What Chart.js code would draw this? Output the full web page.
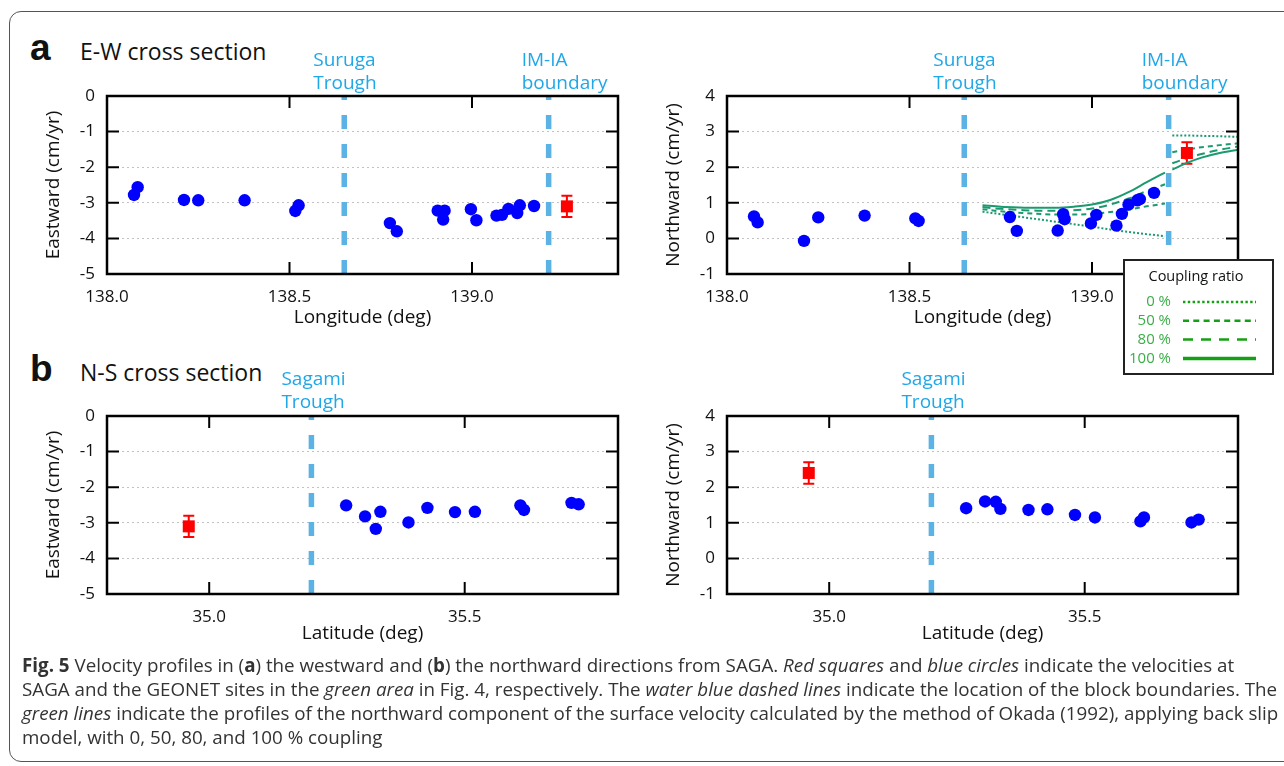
<!DOCTYPE html>
<html>
<head>
<meta charset="utf-8">
<title>Velocity profiles</title>
<script src="https://cdn.jsdelivr.net/npm/chart.js@4.4.1/dist/chart.umd.min.js"></script>
<style>
  body { margin: 0; width: 1284px; height: 766px; overflow: hidden; position: relative; background: #fff; font-family: 'Open Sans', sans-serif; }
  #frame { position: absolute; left: 9px; top: 11px; width: 1300px; height: 751px; border: 1.4px solid #555; border-radius: 12px; box-sizing: border-box; }
  .panel { position: absolute; }
  .tag { position: absolute; font: bold 37px 'Liberation Sans', Arial, sans-serif; line-height: 1; color: #111; }
  .head { position: absolute; font-size: 23px; line-height: 1; color: #111; white-space: nowrap; }
  #legend { position: absolute; left: 1123px; top: 259px; border: 2px solid #222; background: #fff; z-index: 5; }
  #legend canvas { display: block; }
  #caption { position: absolute; left: 22px; color: #333; line-height: 24.3px; white-space: nowrap; }
  #caption .ln { display: block; width: max-content; }
</style>
</head>
<body>
<div id="frame"></div>
<div class="tag" style="left:30px;top:29px">a</div>
<div class="head" style="left:80px;top:40px">E-W cross section</div>
<div class="tag" style="left:30px;top:350px">b</div>
<div class="head" style="left:80px;top:361px">N-S cross section</div>

<canvas id="ewEast" class="panel" width="640" height="320" style="left:0;top:30px"></canvas>
<canvas id="ewNorth" class="panel" width="640" height="320" style="left:640px;top:30px"></canvas>
<canvas id="nsEast" class="panel" width="640" height="320" style="left:0;top:350px"></canvas>
<canvas id="nsNorth" class="panel" width="640" height="320" style="left:640px;top:350px"></canvas>

<div id="legend"><canvas id="legendCanvas" width="147" height="112"></canvas></div>

<div id="caption">
  <span class="ln"><b>Fig. 5</b> Velocity profiles in (<b>a</b>) the westward and (<b>b</b>) the northward directions from SAGA. <i>Red squares</i> and <i>blue circles</i> indicate the velocities at</span>
  <span class="ln">SAGA and the GEONET sites in the <i>green area</i> in Fig. 4, respectively. The <i>water blue dashed lines</i> indicate the location of the block boundaries. The</span>
  <span class="ln"><i>green lines</i> indicate the profiles of the northward component of the surface velocity calculated by the method of Okada (1992), applying back slip</span>
  <span class="ln">model, with 0, 50, 80, and 100 % coupling</span>
</div>

<script>
// GEONET sites along the E-W section (longitude, cm/yr)
const ewLon   = [138.074, 138.084, 138.211, 138.250, 138.377, 138.516, 138.525, 138.775, 138.794, 138.906,
                 138.921, 138.925, 138.997, 139.012, 139.067, 139.082, 139.100, 139.124, 139.131, 139.170];
const ewEast  = [-2.78, -2.56, -2.92, -2.93, -2.93, -3.23, -3.07, -3.57, -3.80, -3.22,
                 -3.47, -3.22, -3.18, -3.49, -3.36, -3.34, -3.17, -3.29, -3.07, -3.09];
const ewNorth = [0.62, 0.45, -0.07, 0.59, 0.64, 0.56, 0.49, 0.60, 0.21, 0.22,
                 0.68, 0.54, 0.42, 0.66, 0.36, 0.69, 0.95, 1.07, 1.10, 1.28];

// GEONET sites along the N-S section (latitude, cm/yr)
const nsLat   = [35.268, 35.305, 35.326, 35.335, 35.390, 35.427, 35.481, 35.520, 35.609, 35.616, 35.709, 35.723];
const nsEast  = [-2.51, -2.82, -3.17, -2.69, -2.99, -2.58, -2.70, -2.69, -2.51, -2.64, -2.44, -2.48];
const nsNorth = [1.41, 1.60, 1.59, 1.39, 1.36, 1.38, 1.22, 1.15, 1.04, 1.15, 1.01, 1.09];

// SAGA (seafloor site)
const sagaLon = 139.26, sagaLat = 34.96;
const sagaEast = -3.10, sagaNorth = 2.40, sagaErr = 0.30;

// Okada model, northward component, west and east of the IM-IA boundary
const modelLonW    = [138.70, 138.75, 138.80, 138.85, 138.90, 138.95, 139.00, 139.05, 139.10, 139.15, 139.20];
const coupling0W   = [0.75, 0.68, 0.61, 0.54, 0.47, 0.40, 0.33, 0.25, 0.18, 0.12, 0.06];
const coupling50W  = [0.82, 0.76, 0.72, 0.69, 0.67, 0.67, 0.69, 0.74, 0.81, 0.90, 0.98];
const coupling80W  = [0.88, 0.83, 0.80, 0.78, 0.78, 0.79, 0.84, 0.95, 1.12, 1.33, 1.52];
const coupling100W = [0.93, 0.89, 0.87, 0.86, 0.86, 0.89, 0.95, 1.08, 1.30, 1.58, 1.85];
const modelLonE    = [139.22, 139.26, 139.30, 139.35, 139.40];
const coupling0E   = [2.89, 2.89, 2.88, 2.87, 2.85];
const coupling50E  = [2.42, 2.50, 2.56, 2.62, 2.67];
const coupling80E  = [2.11, 2.25, 2.37, 2.49, 2.58];
const coupling100E = [1.93, 2.12, 2.27, 2.40, 2.49];
const couplingLabels = ['0 %', '50 %', '80 %', '100 %'];

// block boundaries
const surugaLon = 138.65, imiaLon = 139.21, sagamiLat = 35.20;

// ticks
const lonTicks = [138.0, 138.5, 139.0];
const latTicks = [35.0, 35.5];
const eastTicks = [0, -1, -2, -3, -4, -5];
const northTicks = [4, 3, 2, 1, 0, -1];

const FONT = "'Open Sans', sans-serif";
const curveColor = '#1b9a6f';
const curveDash = [[2, 2], [5, 4], [8, 5], []];
const legendDash = [[2.4, 2.4], [6, 4.3], [10, 8], []];

Chart.defaults.font.family = FONT;
Chart.defaults.color = '#111';

const pts = (xs, ys) => xs.map((x, i) => ({x: x, y: ys[i]}));

// boundary lines, error bar, inward ticks, frame and boundary names
const decor = {
  id: 'panelDecor',
  beforeDatasetsDraw(chart, args, opts) {
    const {ctx, chartArea: a, scales: {x, y}} = chart;
    ctx.save();
    ctx.strokeStyle = '#5ab3e4';
    ctx.lineWidth = 5.5;
    ctx.setLineDash([14, 15]);
    opts.bounds.forEach(b => {
      const px = x.getPixelForValue(b.at);
      ctx.beginPath();
      ctx.moveTo(px, a.bottom);
      ctx.lineTo(px, a.top);
      ctx.stroke();
    });
    if (opts.err) {
      const px = x.getPixelForValue(opts.err.x);
      const hi = y.getPixelForValue(opts.err.y + opts.err.e);
      const lo = y.getPixelForValue(opts.err.y - opts.err.e);
      ctx.setLineDash([]);
      ctx.strokeStyle = '#ff0000';
      ctx.lineWidth = 2;
      ctx.beginPath();
      ctx.moveTo(px, hi); ctx.lineTo(px, lo);
      ctx.moveTo(px - 5.5, hi); ctx.lineTo(px + 5.5, hi);
      ctx.moveTo(px - 5.5, lo); ctx.lineTo(px + 5.5, lo);
      ctx.stroke();
    }
    ctx.restore();
  },
  afterDraw(chart, args, opts) {
    const {ctx, chartArea: a, scales: {x, y}} = chart;
    ctx.save();
    ctx.setLineDash([]);
    ctx.strokeStyle = '#000';
    ctx.lineWidth = 2;
    ctx.beginPath();
    y.ticks.forEach(t => {
      const py = y.getPixelForValue(t.value);
      ctx.moveTo(a.left, py); ctx.lineTo(a.left + 12, py);
      ctx.moveTo(a.right - 12, py); ctx.lineTo(a.right, py);
    });
    x.ticks.forEach(t => {
      const px = x.getPixelForValue(t.value);
      ctx.moveTo(px, a.top); ctx.lineTo(px, a.top + 12);
      ctx.moveTo(px, a.bottom - 12); ctx.lineTo(px, a.bottom);
    });
    ctx.stroke();
    ctx.lineWidth = 2.5;
    ctx.strokeRect(a.left, a.top, a.right - a.left, a.bottom - a.top);

    ctx.fillStyle = '#1fa7e7';
    ctx.font = '19px ' + FONT;
    ctx.textAlign = 'left';
    ctx.textBaseline = 'middle';
    opts.bounds.forEach(b => {
      const px = x.getPixelForValue(b.at);
      b.text.forEach((s, i) => ctx.fillText(s, px + b.dx, opts.labelY[i]));
    });
    ctx.restore();
  }
};

function panel(id, o) {
  return new Chart(document.getElementById(id), {
    type: 'scatter',
    data: {datasets: o.datasets},
    plugins: [decor],
    options: {
      responsive: false,
      animation: false,
      layout: {padding: {left: o.padLeft, right: o.padRight, top: 66, bottom: 16}},
      plugins: {
        legend: {display: false},
        tooltip: {enabled: false},
        panelDecor: o.decor
      },
      scales: {
        x: {
          type: 'linear', min: o.xMin, max: o.xMax,
          afterBuildTicks: s => { s.ticks = o.xTicks.map(v => ({value: v})); },
          afterFit: s => { s.height = 60; },
          grid: {display: false},
          border: {display: false},
          ticks: {padding: 5, font: {size: 17}, callback: v => v.toFixed(1)},
          title: {display: true, text: o.xTitle, font: {size: 19}, padding: {top: 0, bottom: o.xTitlePad}}
        },
        y: {
          type: 'linear', min: o.yMin, max: o.yMax,
          afterBuildTicks: s => { s.ticks = o.yTicks.map(v => ({value: v})); },
          afterFit: s => { s.width = 75; },
          grid: {color: '#c2c2c2', lineWidth: 1, drawTicks: false},
          border: {display: false, dash: [2, 3]},
          ticks: {padding: 12, font: {size: 17}, callback: v => String(v)},
          title: {display: true, text: o.yTitle, font: {size: 19}, padding: {top: 10, bottom: 0}}
        }
      }
    }
  });
}

const siteSet = data => ({data: data, pointRadius: 6.2, pointHoverRadius: 6.2, backgroundColor: '#0000ff', borderWidth: 0});
const sagaSet = data => ({data: data, pointStyle: 'rect', pointRadius: 8.5, pointHoverRadius: 8.5, backgroundColor: '#ff0000', borderWidth: 0});
const curveSet = (xs, ys, k) => ({
  type: 'line', data: pts(xs, ys), showLine: true, fill: false,
  borderColor: curveColor, borderWidth: 2, borderDash: curveDash[k],
  pointRadius: 0, cubicInterpolationMode: 'monotone'
});

const ewDecorBounds = [
  {at: surugaLon, text: ['Suruga', 'Trough'], dx: -31},
  {at: imiaLon, text: ['IM-IA', 'boundary'], dx: -27}
];
const nsDecorBounds = [
  {at: sagamiLat, text: ['Sagami', 'Trough'], dx: -30}
];

panel('ewEast', {
  padLeft: 32, padRight: 22,
  xMin: 138.0, xMax: 139.4, xTicks: lonTicks, xTitle: 'Longitude (deg)', xTitlePad: 5,
  yMin: -5, yMax: 0, yTicks: eastTicks, yTitle: 'Eastward (cm/yr)',
  decor: {bounds: ewDecorBounds, labelY: [31, 54], err: {x: sagaLon, y: sagaEast, e: sagaErr}},
  datasets: [siteSet(pts(ewLon, ewEast)), sagaSet([{x: sagaLon, y: sagaEast}])]
});

panel('ewNorth', {
  padLeft: 12, padRight: 42,
  xMin: 138.0, xMax: 139.4, xTicks: lonTicks, xTitle: 'Longitude (deg)', xTitlePad: 5,
  yMin: -1, yMax: 4, yTicks: northTicks, yTitle: 'Northward (cm/yr)',
  decor: {bounds: ewDecorBounds, labelY: [31, 54], err: {x: sagaLon, y: sagaNorth, e: sagaErr}},
  datasets: [
    siteSet(pts(ewLon, ewNorth)),
    sagaSet([{x: sagaLon, y: sagaNorth}]),
    curveSet(modelLonW, coupling0W, 0), curveSet(modelLonW, coupling50W, 1),
    curveSet(modelLonW, coupling80W, 2), curveSet(modelLonW, coupling100W, 3),
    curveSet(modelLonE, coupling0E, 0), curveSet(modelLonE, coupling50E, 1),
    curveSet(modelLonE, coupling80E, 2), curveSet(modelLonE, coupling100E, 3)
  ]
});

panel('nsEast', {
  padLeft: 32, padRight: 22,
  xMin: 34.8, xMax: 35.8, xTicks: latTicks, xTitle: 'Latitude (deg)', xTitlePad: 9,
  yMin: -5, yMax: 0, yTicks: eastTicks, yTitle: 'Eastward (cm/yr)',
  decor: {bounds: nsDecorBounds, labelY: [30, 53], err: {x: sagaLat, y: sagaEast, e: sagaErr}},
  datasets: [siteSet(pts(nsLat, nsEast)), sagaSet([{x: sagaLat, y: sagaEast}])]
});

panel('nsNorth', {
  padLeft: 12, padRight: 42,
  xMin: 34.8, xMax: 35.8, xTicks: latTicks, xTitle: 'Latitude (deg)', xTitlePad: 9,
  yMin: -1, yMax: 4, yTicks: northTicks, yTitle: 'Northward (cm/yr)',
  decor: {bounds: nsDecorBounds, labelY: [30, 53], err: {x: sagaLat, y: sagaNorth, e: sagaErr}},
  datasets: [siteSet(pts(nsLat, nsNorth)), sagaSet([{x: sagaLat, y: sagaNorth}])]
});

// coupling ratio key
const lg = document.getElementById('legendCanvas').getContext('2d');
lg.font = '14.5px ' + FONT;
lg.fillStyle = '#111';
lg.textAlign = 'center';
lg.textBaseline = 'middle';
lg.fillText('Coupling ratio', 71, 16);
couplingLabels.forEach((lab, i) => {
  const yy = 41 + i * 18.8;
  lg.font = '15px ' + FONT;
  lg.fillStyle = '#3aae47';
  lg.textAlign = 'right';
  lg.fillText(lab, 46, yy);
  lg.strokeStyle = '#14a014';
  lg.lineWidth = i === 3 ? 3.5 : 2.5;
  lg.setLineDash(legendDash[i]);
  lg.beginPath();
  lg.moveTo(58, yy);
  lg.lineTo(131, yy);
  lg.stroke();
});

// caption: size the font so the first line spans the same width as the original
const cap = document.getElementById('caption');
cap.style.fontSize = '18px';
const w0 = cap.querySelector('.ln').getBoundingClientRect().width;
const fs = 18 * 1213 / w0;
cap.style.fontSize = fs.toFixed(2) + 'px';
const base = (24.3 - 1.362 * fs) / 2 + 1.069 * fs;
cap.style.top = (672 - base).toFixed(1) + 'px';
</script>
</body>
</html>
